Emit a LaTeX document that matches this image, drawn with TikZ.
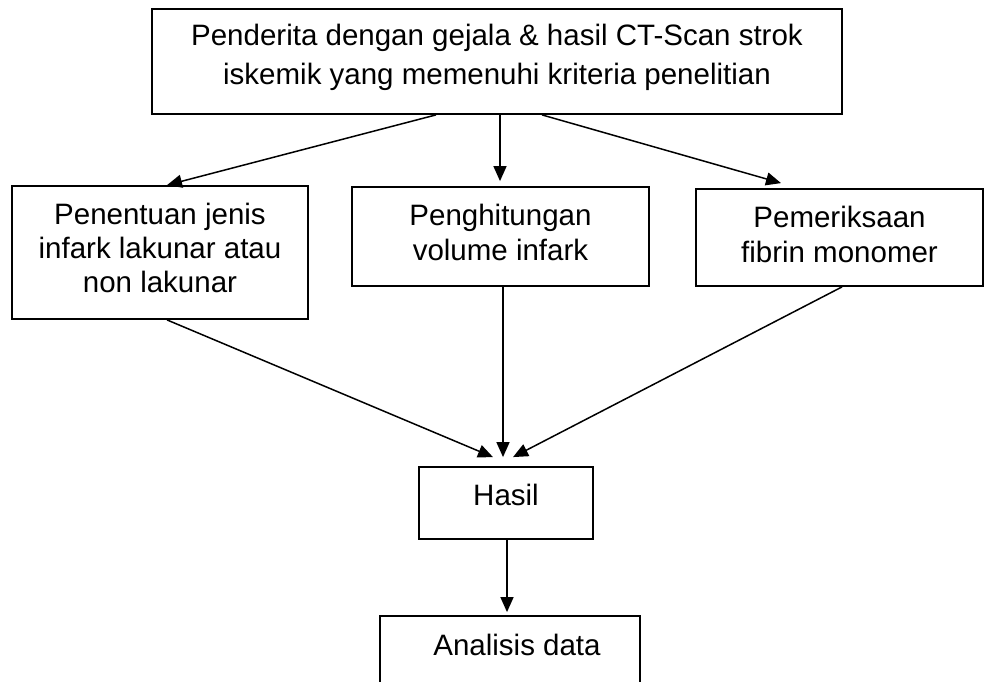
\documentclass[tikz,border=0pt]{standalone}
\usepackage{fontspec}
\setmainfont{Liberation Sans}
\usetikzlibrary{arrows.meta}
\begin{document}
\begin{tikzpicture}[x=1pt,y=-1pt,
  box/.style={draw, line width=1.8pt, align=center, inner sep=0pt, font=\fontsize{29.5}{35}\selectfont},
  arr/.style={-{Triangle[length=15pt,width=13pt]}, line width=1.5pt}]
\useasboundingbox (0,0) rectangle (985,682);
\clip (0,0) rectangle (985,682);
\node[box, minimum width=690pt, minimum height=105pt, text height=60pt, text depth=13pt, font=\fontsize{29.5}{39}\selectfont] (top) at (497,61.5) {Penderita dengan gejala \& hasil CT-Scan strok\\iskemik yang memenuhi kriteria penelitian};
\node[box, minimum width=296pt, minimum height=133pt, text height=89pt, text depth=10pt, font=\fontsize{29.5}{34}\selectfont] (left) at (160,252.5) {Penentuan jenis\\infark lakunar atau\\non lakunar};
\node[box, minimum width=297pt, minimum height=99pt, text height=56pt, text depth=9pt] (mid) at (500.5,236.5) {Penghitungan\\volume infark};
\node[box, minimum width=287pt, minimum height=97pt, text height=56pt, text depth=7pt] (right) at (839.5,237.5) {Pemeriksaan\\fibrin monomer};
\node[box, minimum width=174pt, minimum height=72pt, text height=21pt, text depth=17pt] (hasil) at (506,503) {Hasil};
\node[box, minimum width=260pt, minimum height=100pt, text height=21pt, text depth=43pt] (anal) at (510,666) {\hspace*{14pt}Analisis data};
\draw[arr] ([xshift=-61pt]top.south) -- ([xshift=7pt]left.north);
\draw[arr] ([xshift=3pt]top.south) -- ([xshift=-0.5pt,yshift=5pt]mid.north);
\draw[arr] ([xshift=45pt]top.south) -- ([xshift=-58.5pt,yshift=5pt]right.north);
\draw[arr] ([xshift=7pt]left.south) -- ([xshift=-13pt,yshift=9pt]hasil.north);
\draw[arr] ([xshift=2.5pt]mid.south) -- ([xshift=-3pt,yshift=9pt]hasil.north);
\draw[arr] ([xshift=2.5pt]right.south) -- ([xshift=7pt,yshift=9pt]hasil.north);
\draw[arr] ([xshift=1pt]hasil.south) -- ([xshift=-3pt,yshift=3pt]anal.north);
\end{tikzpicture}
\end{document}
